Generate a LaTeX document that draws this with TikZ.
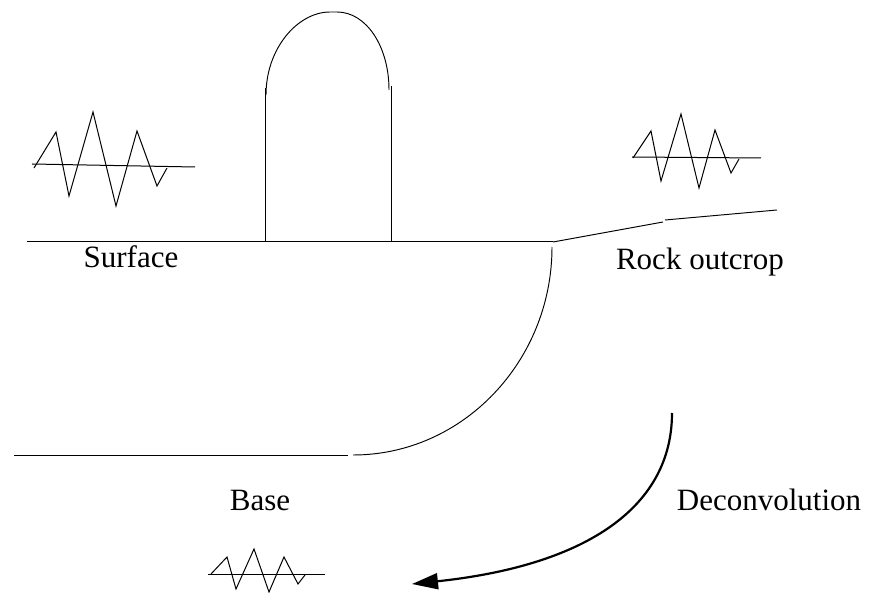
\documentclass[tikz,border=0pt]{standalone}
\usepackage{fontspec}
\setmainfont{Liberation Serif}
\usetikzlibrary{arrows.meta}
\begin{document}
\begin{tikzpicture}[x=1pt,y=-1pt,
  thin line/.style={line width=0.95pt,line join=miter},
  trace/.style={line width=1pt,line join=miter},
  label text/.style={anchor=base,inner sep=0pt,font=\fontsize{31}{36}\selectfont},
  deconv arrow/.style={line width=2.2pt,-{Triangle[length=26pt,width=16pt]}}]
\useasboundingbox (0,0) rectangle (873,593);

% ground surface and the building standing on it
\draw[thin line] (27,241) -- (553,241);
\draw[thin line] (265,88) -- (265,241);
\draw[thin line] (391,86) -- (391,241);
\draw[thin line] (266,95) .. controls (266,48) and (298,12) .. (330,12) -- (337,12)
  .. controls (366,12) and (389,46) .. (389,90);

% rock outcrop rising to the right
\draw[thin line] (553,242) -- (663,222);
\draw[thin line] (665,220) -- (777,210);

% basin boundary and base line
\draw[thin line] (552,247) .. controls (552,361) and (463,455) .. (353,455);
\draw[thin line] (14,455) -- (348,455);

% seismograms
\draw[trace] (32,164) -- (195,167);
\draw[trace] (34,168) -- (56,132) -- (69,196) -- (93,112) -- (116,206)
  -- (137,131) -- (157,186) -- (167,168);

\draw[trace] (632,157) -- (761,158);
\draw[trace] (633,158) -- (651,131) -- (661,181) -- (681,114) -- (699,188)
  -- (715,130) -- (731,173) -- (739,159);

\draw[trace] (208,574) -- (325,574);
\draw[trace] (211,574) -- (227,557) -- (236,589) -- (254,549) -- (269,592)
  -- (284,557) -- (298,584) -- (305,575);

% labels
\node[label text] (surface) at (131,268) {Surface};
\node[label text] (rock) at (700,270) {Rock outcrop};
\node[label text] (base) at (260,510) {Base};
\node[label text] (deconv) at (769,510) {Deconvolution};

% deconvolution arrow
\coordinate (arrowstart) at (672,413);
\coordinate (arrowtip) at (412,584);
\draw[deconv arrow] (arrowstart) .. controls (672,505) and (590,565) .. (arrowtip);
\end{tikzpicture}
\end{document}
